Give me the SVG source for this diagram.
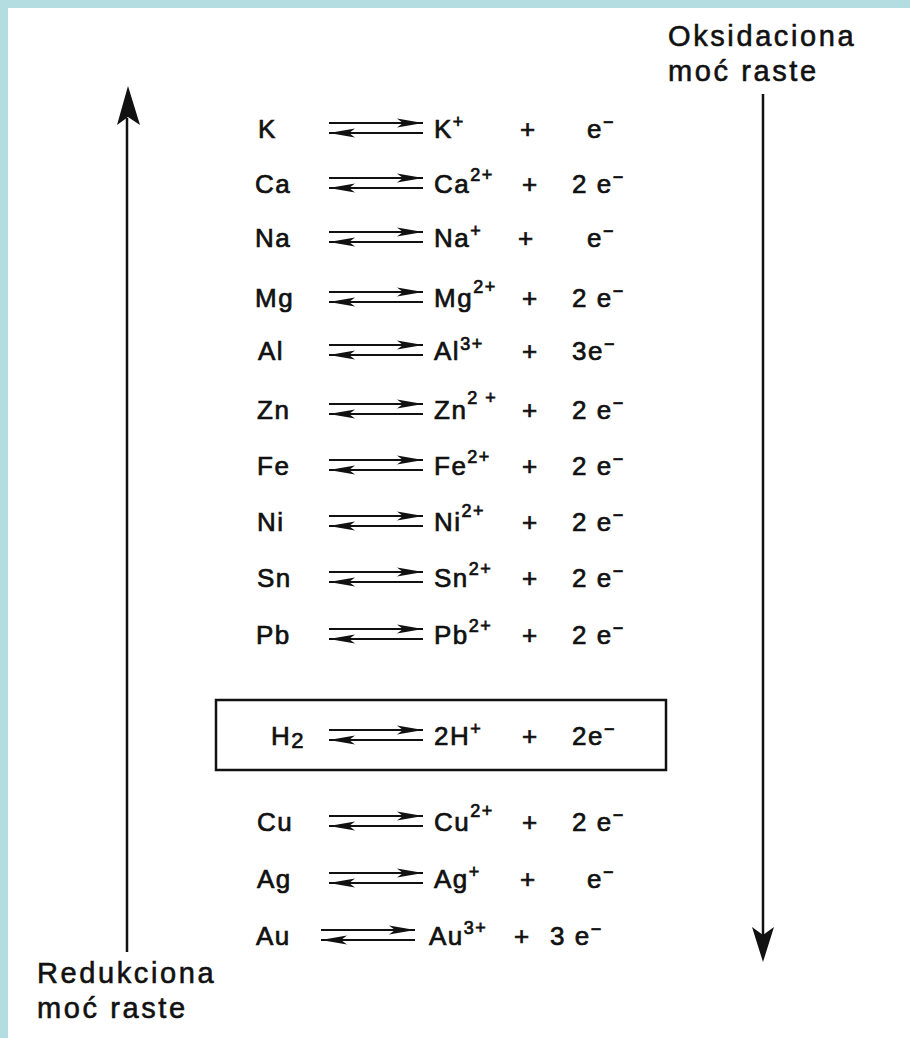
<svg xmlns="http://www.w3.org/2000/svg" width="910" height="1038" viewBox="0 0 910 1038">
<style>
.t{font-family:"Liberation Sans",Arial,sans-serif;font-size:26px;letter-spacing:1.5px;fill:#111;stroke:#111;stroke-width:0.7px}
.s{font-size:18px}
.lab{font-family:"Liberation Sans",Arial,sans-serif;font-size:29px;letter-spacing:2.6px;fill:#111;stroke:#111;stroke-width:0.6px}
.ax{stroke:#111;stroke-width:2.5;fill:none}
</style>
<defs>
<marker id="hd" markerUnits="userSpaceOnUse" markerWidth="28" markerHeight="10" refX="26" refY="5" orient="auto-start-reverse">
<path d="M0,0.5 L26,5 L0,9.5 L6,5 z" fill="#111"/>
</marker>
<g id="eqarr">
<line x1="0" y1="-5" x2="94" y2="-5" stroke="#111" stroke-width="2.2" marker-end="url(#hd)"/>
<line x1="0" y1="5" x2="94" y2="5" stroke="#111" stroke-width="2.2" marker-start="url(#hd)"/>
</g>
</defs>
<rect width="910" height="1038" fill="#fff"/>
<rect width="910" height="8" fill="#b3dde1"/>
<rect width="8" height="1038" fill="#b3dde1"/>

<g id="reduction-axis">
<line class="ax" x1="127" y1="118" x2="127" y2="952"/>
<polygon points="128,86 117,125 128,117 140,125" fill="#111"/>
<text class="lab" x="37" y="983">Redukciona</text>
<text class="lab" x="37" y="1018">moć raste</text>
</g>

<g id="oxidation-axis">
<line class="ax" x1="763" y1="94" x2="763" y2="935"/>
<polygon points="763,962 752,927 763,935 774,927" fill="#111"/>
<text class="lab" x="668" y="46">Oksidaciona</text>
<text class="lab" x="668" y="81">moć raste</text>
</g>

<g id="connectors">
<use href="#eqarr" x="329" y="128"/>
<use href="#eqarr" x="329" y="183"/>
<use href="#eqarr" x="329" y="237"/>
<use href="#eqarr" x="329" y="297"/>
<use href="#eqarr" x="329" y="350"/>
<use href="#eqarr" x="329" y="409"/>
<use href="#eqarr" x="329" y="465"/>
<use href="#eqarr" x="329" y="521"/>
<use href="#eqarr" x="329" y="577"/>
<use href="#eqarr" x="329" y="634"/>
<use href="#eqarr" x="329" y="735"/>
<use href="#eqarr" x="329" y="821"/>
<use href="#eqarr" x="329" y="878"/>
<use href="#eqarr" x="321" y="935"/>
</g>

<g id="row-K">
<text class="t" x="258" y="138">K</text>
<text class="t" x="434" y="138">K<tspan class="s" dy="-10">+</tspan></text>
<text class="t" x="520" y="138">+</text>
<text class="t" x="587" y="138">e<tspan class="s" dy="-10">−</tspan></text>
</g>
<g id="row-Ca">
<text class="t" x="255" y="193">Ca</text>
<text class="t" x="434" y="193">Ca<tspan class="s" dy="-12">2+</tspan></text>
<text class="t" x="522" y="193">+</text>
<text class="t" x="572" y="193">2 e<tspan class="s" dy="-10">−</tspan></text>
</g>
<g id="row-Na">
<text class="t" x="255" y="247">Na</text>
<text class="t" x="434" y="247">Na<tspan class="s" dy="-10">+</tspan></text>
<text class="t" x="518" y="247">+</text>
<text class="t" x="587" y="247">e<tspan class="s" dy="-10">−</tspan></text>
</g>
<g id="row-Mg">
<text class="t" x="255" y="307">Mg</text>
<text class="t" x="434" y="307">Mg<tspan class="s" dy="-14">2+</tspan></text>
<text class="t" x="522" y="307">+</text>
<text class="t" x="572" y="307">2 e<tspan class="s" dy="-10">−</tspan></text>
</g>
<g id="row-Al">
<text class="t" x="258" y="360">Al</text>
<text class="t" x="434" y="360">Al<tspan class="s" dy="-10">3+</tspan></text>
<text class="t" x="522" y="360">+</text>
<text class="t" x="572" y="360">3e<tspan class="s" dy="-10">−</tspan></text>
</g>
<g id="row-Zn">
<text class="t" x="257" y="419">Zn</text>
<text class="t" x="434" y="419">Zn<tspan class="s" dy="-15">2 +</tspan></text>
<text class="t" x="522" y="419">+</text>
<text class="t" x="572" y="419">2 e<tspan class="s" dy="-10">−</tspan></text>
</g>
<g id="row-Fe">
<text class="t" x="257" y="475">Fe</text>
<text class="t" x="434" y="475">Fe<tspan class="s" dy="-12">2+</tspan></text>
<text class="t" x="522" y="475">+</text>
<text class="t" x="572" y="475">2 e<tspan class="s" dy="-10">−</tspan></text>
</g>
<g id="row-Ni">
<text class="t" x="257" y="531">Ni</text>
<text class="t" x="434" y="531">Ni<tspan class="s" dy="-14">2+</tspan></text>
<text class="t" x="522" y="531">+</text>
<text class="t" x="572" y="531">2 e<tspan class="s" dy="-10">−</tspan></text>
</g>
<g id="row-Sn">
<text class="t" x="257" y="587">Sn</text>
<text class="t" x="434" y="587">Sn<tspan class="s" dy="-12">2+</tspan></text>
<text class="t" x="522" y="587">+</text>
<text class="t" x="572" y="587">2 e<tspan class="s" dy="-10">−</tspan></text>
</g>
<g id="row-Pb">
<text class="t" x="256" y="644">Pb</text>
<text class="t" x="434" y="644">Pb<tspan class="s" dy="-12">2+</tspan></text>
<text class="t" x="522" y="644">+</text>
<text class="t" x="572" y="644">2 e<tspan class="s" dy="-10">−</tspan></text>
</g>
<g id="row-H2">
<rect x="216" y="700" width="450" height="70" fill="none" stroke="#111" stroke-width="2.5"/>
<text class="t" x="271" y="745">H<tspan dy="3" font-size="22">2</tspan></text>
<text class="t" x="434" y="745">2H<tspan class="s" dy="-10">+</tspan></text>
<text class="t" x="522" y="745">+</text>
<text class="t" x="572" y="745">2e<tspan class="s" dy="-10">−</tspan></text>
</g>
<g id="row-Cu">
<text class="t" x="257" y="831">Cu</text>
<text class="t" x="434" y="831">Cu<tspan class="s" dy="-14">2+</tspan></text>
<text class="t" x="522" y="831">+</text>
<text class="t" x="572" y="831">2 e<tspan class="s" dy="-10">−</tspan></text>
</g>
<g id="row-Ag">
<text class="t" x="257" y="888">Ag</text>
<text class="t" x="434" y="888">Ag<tspan class="s" dy="-10">+</tspan></text>
<text class="t" x="520" y="888">+</text>
<text class="t" x="587" y="888">e<tspan class="s" dy="-10">−</tspan></text>
</g>
<g id="row-Au">
<text class="t" x="256" y="945">Au</text>
<text class="t" x="429" y="945">Au<tspan class="s" dy="-11">3+</tspan></text>
<text class="t" x="514" y="945">+</text>
<text class="t" x="550" y="945">3 e<tspan class="s" dy="-10">−</tspan></text>
</g>
</svg>
